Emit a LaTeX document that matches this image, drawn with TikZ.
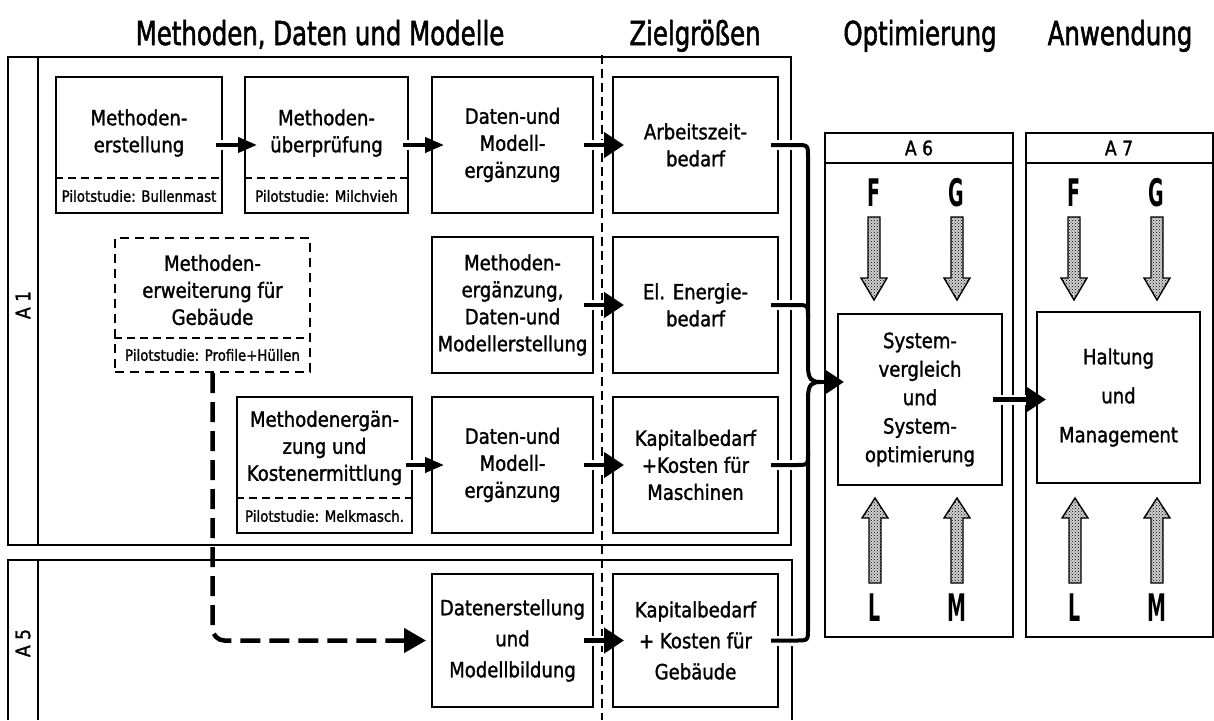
\documentclass[tikz,border=0pt]{standalone}
\usepackage{fontspec}
\setmainfont{DejaVu Sans}[FakeStretch=0.86, FakeBold=1.4]
\newfontfamily\headfont{DejaVu Sans}[FakeStretch=0.74, FakeBold=1.6]
\newfontfamily\letterfont{DejaVu Sans}[FakeStretch=0.5]
\usetikzlibrary{arrows.meta,patterns}

\begin{document}
\begin{tikzpicture}[x=1pt,y=-1pt,
  frame/.style={line width=1.4pt},
  box/.style={draw, line width=2pt, inner sep=0pt, align=center, font=\fontsize{21}{27}\selectfont},
  dbox/.style={box, dash pattern=on 9pt off 6pt},
  boxtext/.style={inner sep=0pt, align=center, font=\fontsize{21}{27}\selectfont},
  pilot/.style={inner sep=0pt, font=\fontsize{15.5}{18}\selectfont},
  divider/.style={line width=1.6pt, dash pattern=on 8pt off 5pt},
  colsep/.style={line width=1.4pt, dash pattern=on 9pt off 5pt},
  head/.style={anchor=base, inner sep=0pt, font=\headfont\fontsize{33}{36}\selectfont},
  lab/.style={inner sep=0pt, font=\fontsize{20}{24}\selectfont},
  big/.style={inner sep=0pt, font=\letterfont\bfseries\fontsize{38}{40}\selectfont},
  halo/.style={preaction={draw=white, line width=10pt, -}},
  arrS/.style={line width=4pt, -{Triangle[length=19pt, width=15pt]}, halo},
  arrB/.style={line width=4.5pt, -{Triangle[length=20pt, width=25pt]}},
  conn/.style={line width=4pt},
  dconn/.style={line width=4.5pt, dash pattern=on 20pt off 9pt, -{Triangle[length=22pt, width=24pt]}},
  gap/.style={draw=white, line width=10pt},
  stipple/.style={line width=1.4pt, preaction={fill=black!18}, pattern=crosshatch dots},
  pics/fallarrow/.style={code={\draw[stipple] (-6,0) -- (-6,61) -- (-13,61) -- (0,83) -- (13,61) -- (6,61) -- (6,0) -- cycle;}},
  pics/risearrow/.style={code={\draw[stipple] (0,0) -- (13,20) -- (6,20) -- (6,85) -- (-6,85) -- (-6,20) -- (-13,20) -- cycle;}},
]
\fill[white] (0,0) rectangle (1214,720);
\useasboundingbox (0,0) rectangle (1214,720);

% column headings
\node[head] (hMeth) at (320,45) {Methoden, Daten und Modelle};
\node[head] (hZiel) at (695,45) {Zielgrößen};
\node[head] (hOpt)  at (920,45) {Optimierung};
\node[head] (hAnw)  at (1120,45) {Anwendung};

% project frames A1 and A5
\draw[frame] (8,57) rectangle (791,545);
\draw[frame] (38,57) -- (38,545);
\draw[frame] (8,720) -- (8,560) -- (792,560) -- (792,720);
\draw[frame] (38,560) -- (38,720);
\node[lab, rotate=90] (lA1) at (23,305) {A 1};
\node[lab, rotate=90] (lA5) at (23,643) {A 5};

% boundary between models and target values
\draw[colsep] (602,55) -- (602,720);

% frames A6 and A7
\draw[frame] (825,133) rectangle (1013,637);
\draw[frame] (825,163) -- (1013,163);
\node[lab] (lA6) at (919,148) {A 6};
\draw[frame] (1026,133) rectangle (1213,637);
\draw[frame] (1026,163) -- (1213,163);
\node[lab] (lA7) at (1119,148) {A 7};

% row 1
\node[box, minimum width=166pt, minimum height=136pt] (b1) at (139,145) {};
\node[boxtext] (b1t) at (139,133) {Methoden-\\erstellung};
\node[pilot] (b1p) at (139,196) {Pilotstudie: Bullenmast};
\draw[divider] (b1.west |- 0,178) -- (b1.east |- 0,178);

\node[box, minimum width=163pt, minimum height=136pt] (b2) at (326.5,145) {};
\node[boxtext] (b2t) at (326.5,133) {Methoden-\\überprüfung};
\node[pilot] (b2p) at (326.5,196) {Pilotstudie: Milchvieh};
\draw[divider] (b2.west |- 0,178) -- (b2.east |- 0,178);

\node[box, minimum width=161pt, minimum height=136pt] (b3) at (512.5,145) {Daten-und\\Modell-\\ergänzung};
\node[box, minimum width=165pt, minimum height=136pt] (b4) at (695.5,145) {Arbeitszeit-\\bedarf};

% row 2
\node[dbox, minimum width=195pt, minimum height=134pt] (e1) at (212.5,305) {};
\node[boxtext] (e1t) at (212.5,290) {Methoden-\\erweiterung für\\Gebäude};
\node[pilot] (e1p) at (212.5,355) {Pilotstudie: Profile+Hüllen};
\draw[divider] (e1.west |- 0,338) -- (e1.east |- 0,338);

\node[box, minimum width=161pt, minimum height=136pt] (c3) at (512.5,305) {Methoden-\\ergänzung,\\Daten-und\\Modellerstellung};
\node[box, minimum width=165pt, minimum height=136pt] (c4) at (695.5,305) {El. Energie-\\bedarf};

% row 3
\node[box, minimum width=175pt, minimum height=136pt] (d2) at (324.5,465) {};
\node[boxtext] (d2t) at (324.5,448) {Methodenergän-\\zung und\\Kostenermittlung};
\node[pilot] (d2p) at (324.5,516) {Pilotstudie: Melkmasch.};
\draw[divider] (d2.west |- 0,498) -- (d2.east |- 0,498);

\node[box, minimum width=161pt, minimum height=136pt] (d3) at (512.5,465) {Daten-und\\Modell-\\ergänzung};
\node[box, minimum width=165pt, minimum height=136pt] (d4) at (695.5,465) {Kapitalbedarf\\+Kosten für\\Maschinen};

% row 4
\node[box, minimum width=161pt, minimum height=133pt, font=\fontsize{21}{31}\selectfont] (f3) at (512.5,640.5) {Datenerstellung\\und\\Modellbildung};
\node[box, minimum width=165pt, minimum height=133pt, font=\fontsize{21}{31}\selectfont] (f4) at (695.5,640.5) {Kapitalbedarf\\+ Kosten für\\Gebäude};

% optimisation and application
\node[box, minimum width=164pt, minimum height=171pt, font=\fontsize{21}{28.5}\selectfont] (sys) at (920,399.5) {System-\\vergleich\\und\\System-\\optimierung};
\node[box, minimum width=163pt, minimum height=171pt, font=\fontsize{21}{39}\selectfont] (hal) at (1118.5,397.5) {Haltung\\und\\Management};

% influence letters and stippled arrows
\node[big] (F6) at (874,193) {F};
\node[big] (G6) at (956,193) {G};
\node[big] (F7) at (1074,193) {F};
\node[big] (G7) at (1156,193) {G};
\node[big] (L6) at (875,608) {L};
\node[big] (M6) at (957,608) {M};
\node[big] (L7) at (1075,608) {L};
\node[big] (M7) at (1157,608) {M};
\pic at (874,217) {fallarrow};
\pic at (957,217) {fallarrow};
\pic at (1074,217) {fallarrow};
\pic at (1157,217) {fallarrow};
\pic at (875,498) {risearrow};
\pic at (957,498) {risearrow};
\pic at (1075,498) {risearrow};
\pic at (1157,498) {risearrow};

% flow between the boxes
\draw[arrS] ([xshift=-7pt]b1.east) -- ([xshift=13pt]b2.west);
\draw[arrS] ([xshift=-6pt]b2.east) -- ([xshift=13pt]b3.west);
\draw[arrB, halo] ([xshift=-10pt]b3.east) -- ([xshift=12pt]b4.west);
\draw[arrB, halo] ([xshift=-10pt]c3.east) -- ([xshift=12pt]c4.west);
\draw[arrS] ([xshift=-7pt]d2.east) -- ([xshift=13pt]d3.west);
\draw[arrB, halo] ([xshift=-10pt]d3.east) -- ([xshift=12pt]d4.west);
\draw[arrB, halo] ([xshift=-10pt]f3.east) -- ([xshift=12pt]f4.west);
\draw[dconn, rounded corners=12pt] (e1.south) |- ([xshift=-5pt]f3.west);

% brace collecting the target values
\coordinate (brace) at (821,382);
\draw[gap] ([xshift=-8pt]b4.east) -- (b4.east -| 797,0);
\draw[gap] ([xshift=-8pt]c4.east) -- (c4.east -| 797,0);
\draw[gap] ([xshift=-8pt]d4.east) -- (d4.east -| 797,0);
\draw[gap] ([xshift=-8pt]f4.east) -- (f4.east -| 797,0);
\draw[conn] ([xshift=-8pt]b4.east) -- (796,145) .. controls (808,145) .. (808,157)
  -- (808,366) .. controls (808,380) and (812,382) .. (brace);
\draw[conn] ([xshift=-8pt]f4.east) -- (796,640.5) .. controls (808,640.5) .. (808,628.5)
  -- (808,398) .. controls (808,384) and (812,382) .. (brace);
\draw[conn] ([xshift=-8pt]c4.east) -- (796,305) .. controls (808,305) .. (808,317);
\draw[conn] ([xshift=-8pt]d4.east) -- (796,465) .. controls (808,465) .. (808,453);
\draw[arrB] (brace) -- ([xshift=7pt]sys.west |- brace);

% optimisation feeds application
\draw[arrB, halo] ([xshift=-10pt]sys.east) -- ([xshift=10pt]sys.east -| hal.west);
\end{tikzpicture}
\end{document}
